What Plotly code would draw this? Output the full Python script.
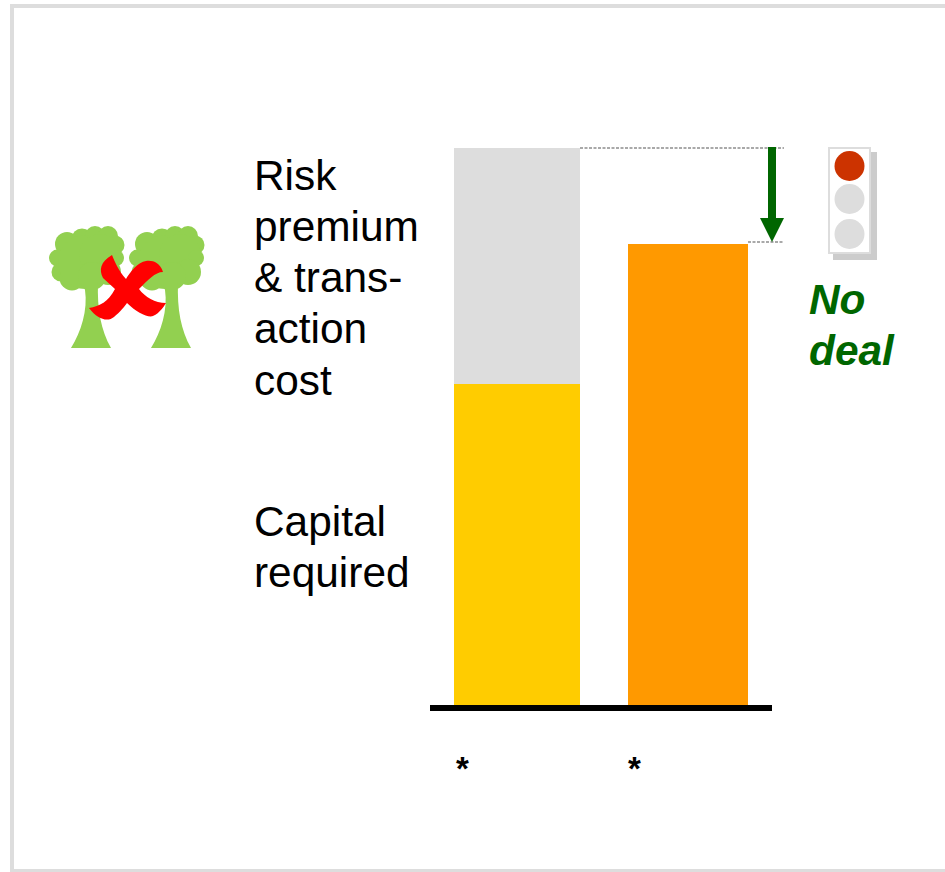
import plotly.graph_objects as go

W, H = 945, 872
BASE_PX = 706

categories = ["Deal A", "Deal B"]
capital_required = [322, None]
risk_premium = [236, None]
single_bar = [None, 462]
star_labels = ["*", "*"]
row_labels = ["Risk<br>premium<br>&amp; trans-<br>action<br>cost", "Capital<br>required"]
verdict = ["No", "deal"]

CX0, PX_PER_CAT = 517, 171
WIDTHS = [126 / PX_PER_CAT, 120 / PX_PER_CAT]

fig = go.Figure()
fig.add_bar(x=categories, y=capital_required, width=WIDTHS, marker=dict(color="#FFCC00", line_width=0), hoverinfo="skip")
fig.add_bar(x=categories, y=risk_premium, width=WIDTHS, marker=dict(color="#DDDDDD", line_width=0), hoverinfo="skip")
fig.add_bar(x=categories, y=single_bar, width=WIDTHS, marker=dict(color="#FF9900", line_width=0), hoverinfo="skip")
# invisible trace to activate the pixel overlay axes
fig.add_scatter(x=[0], y=[0], xaxis="x2", yaxis="y2", mode="markers", marker_opacity=0, hoverinfo="skip")

fig.update_layout(
    width=W, height=H, barmode="stack", showlegend=False,
    margin=dict(l=0, r=0, t=0, b=0),
    paper_bgcolor="white", plot_bgcolor="white",
    font=dict(family="Liberation Sans, Arial, sans-serif", color="black"),
    xaxis=dict(type="category", categoryorder="array", categoryarray=categories, domain=[0, 1],
               range=[-CX0 / PX_PER_CAT, (W - CX0) / PX_PER_CAT], visible=False, fixedrange=True),
    yaxis=dict(range=[BASE_PX - H, BASE_PX], domain=[0, 1], visible=False, fixedrange=True),
    xaxis2=dict(range=[0, W], overlaying="x", visible=False, fixedrange=True, anchor="y2"),
    yaxis2=dict(range=[H, 0], overlaying="y", visible=False, fixedrange=True, anchor="x2"),
)

def px_path(points):
    return "M " + " L ".join(f"{x},{y}" for x, y in points) + " Z"

def add(shape_type="path", **kw):
    fig.add_shape(type=shape_type, xref="x2", yref="y2", **kw)

# frame (open on the right, cut by the page edge)
add("rect", x0=12, y0=6, x1=970, y1=871, line=dict(color="#DDDDDD", width=4), fillcolor="rgba(0,0,0,0)", layer="below")
# baseline
add("rect", x0=430, y0=705, x1=772, y1=711, fillcolor="black", line_width=0)
# dashed leaders
DASH = dict(color="#555555", width=1.2, dash="3px,1.5px")
add("line", x0=580, y0=148, x1=784, y1=148, line=DASH)
add("line", x0=748, y0=242, x1=784, y1=242, line=DASH)
# arrow
add(path=px_path([(768, 147), (776, 147), (776, 218), (784, 218), (772, 242), (760, 218), (768, 218)]),
    fillcolor="#006600", line_width=0)

# traffic light
add("rect", x0=833, y0=152, x1=877, y1=260, fillcolor="#CCCCCC", line_width=0)
add("rect", x0=829, y0=148, x1=870, y1=253, fillcolor="white", line=dict(color="#DDDDDD", width=2))
for cy, col in [(166, "#CC3300"), (199, "#DDDDDD"), (234, "#DDDDDD")]:
    add("circle", x0=834.5, y0=cy - 15, x1=864.5, y1=cy + 15, fillcolor=col, line_width=0)

# trees
GREEN = "#92D050"
CROWN = [(67, 244, 12), (82, 239, 10.5), (95, 236, 10), (108, 236, 10), (115, 245, 9.5),
         (57.5, 258, 8.5), (61, 272, 9.5), (72, 278, 12.5), (85, 262, 27), (100, 255, 21),
         (116, 258, 8), (108, 272, 13), (92, 276, 14)]
def tree(dx):
    for cx, cy, r in CROWN:
        add("circle", x0=cx + dx - r, y0=cy - r, x1=cx + dx + r, y1=cy + r, fillcolor=GREEN, line_width=0, layer="below")
    add(path=f"M {82+dx},282 L {98+dx},282 C {97+dx},310 {101+dx},330 {111+dx},348 L {71+dx},348 C {81+dx},332 {88+dx},310 {85+dx},290 Z",
        fillcolor=GREEN, line_width=0, layer="below")
tree(0)
tree(80)

# red cross
cross = ("M 112,255 C 100,262 99,270 103,278 L 115,289 C 108,302 100,306 89,308 "
         "C 98,320 108,322 114,317 C 120,312 125,306 127,303 C 136,312 148,318 153,316 "
         "C 160,313 164,306 166,303 C 155,303 145,297 139,289 C 148,280 155,272 163,272 "
         "C 160,262 152,260 146,261 C 138,262 130,272 126,279 C 118,270 115,262 112,255 Z")
add(path=cross, fillcolor="#FF0000", line_width=0)

def text(x, y, s, size, color="black", anchor="left"):
    fig.add_annotation(xref="x2", yref="y2", x=x, y=y, text=s, showarrow=False, xanchor=anchor, yanchor="top",
                       align=anchor, font=dict(size=size, color=color), borderpad=0, borderwidth=0)

FS = 42.4
LH = 51.3
def block(x, y, s, **kw):
    for i, line in enumerate(s.split("<br>")):
        text(x, y + i * LH, line, FS, **kw)

block(254, 151.5, row_labels[0])
block(254, 497.5, row_labels[1])
for i, part in enumerate(verdict):
    text(808.5, 276, f"<b><i>{part}</i></b>", FS, color="#006600") if i == 0 else text(808.5, 326.5, f"<b><i>{part}</i></b>", FS, color="#006600")
for x_px, lab in zip([462, 634], star_labels):
    text(x_px, 750, f"<b>{lab}</b>", 33, anchor="center")

fig.write_html("out.html", config=dict(displayModeBar=False),
               post_script="document.body.style.margin='0';document.body.style.overflow='hidden';")
